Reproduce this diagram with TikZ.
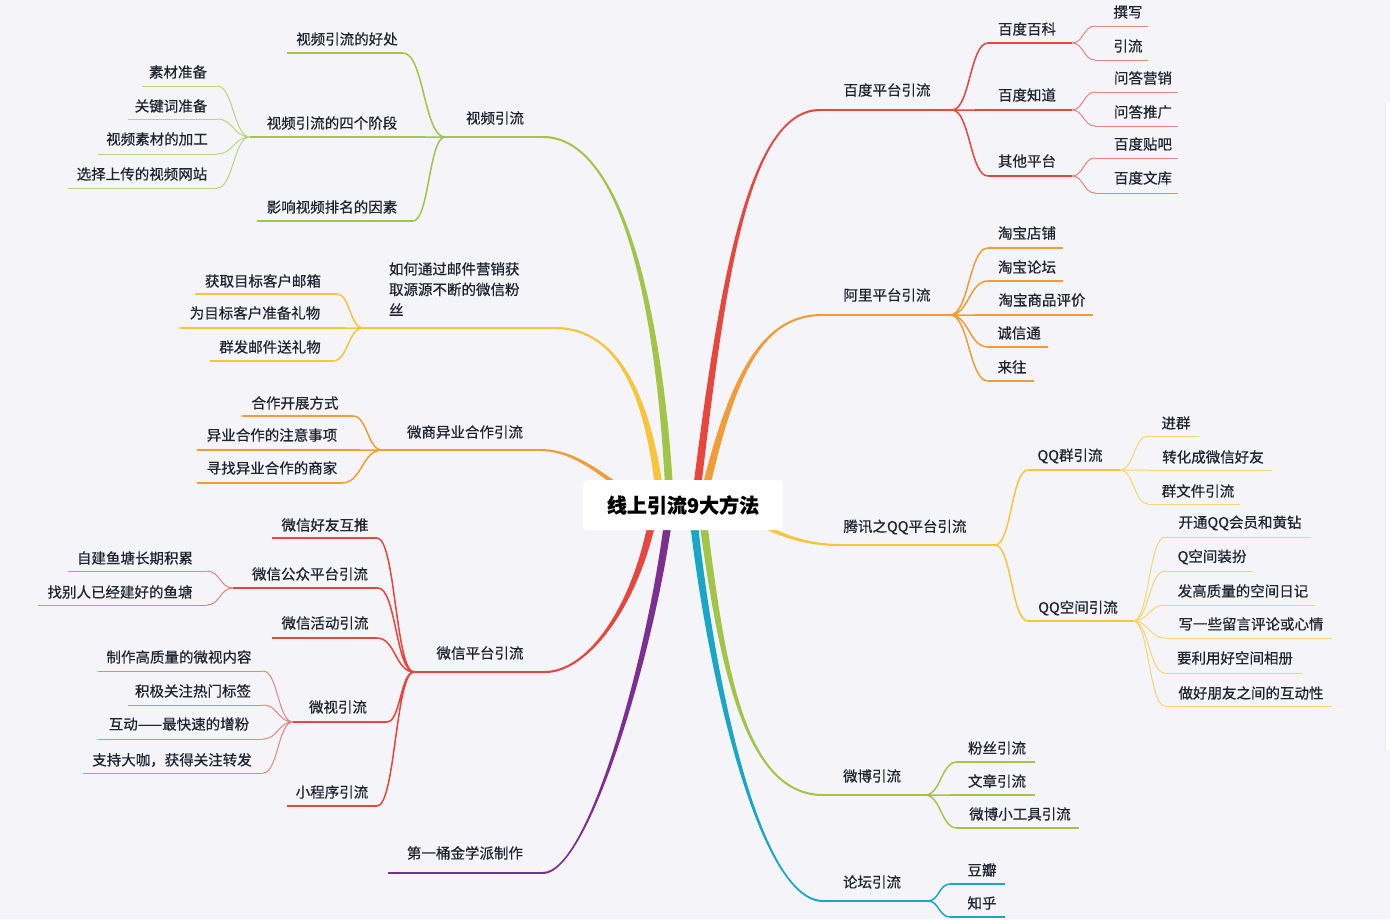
\documentclass[tikz,border=0pt]{standalone}
\usepackage{fontspec}
\setmainfont{Noto Sans CJK SC}[FakeBold=0.5]
\usetikzlibrary{calc}
\definecolor{bg}{HTML}{F5F5F9}
\definecolor{cR}{HTML}{E8453C}
\definecolor{cO}{HTML}{F39B34}
\definecolor{cY}{HTML}{F8C43A}
\definecolor{cG}{HTML}{A2C449}
\definecolor{cC}{HTML}{1AA6C8}
\definecolor{cP}{HTML}{7D2E91}
\definecolor{tx}{HTML}{1E2330}
\tikzset{
 txt/.style={font=\fontsize{14.5}{17}\selectfont, text=tx, inner sep=0pt},
 l1/.style={line width=2pt},
 l2/.style={line width=1.5pt},
 l3/.style={line width=1pt},
 rc/.style={to path={let \p1=(\tikztostart),\p2=(\tikztotarget) in .. controls ({0.5*\x1+0.5*\x2},\y1) and ({0.5*\x1+0.5*\x2},\y2) .. (\tikztotarget)}},
}
% name, text x, text y, line left x, line right x, line y, text, line style
\newcommand\topic[8]{%
 \coordinate (#1-a) at (#4,#6); \coordinate (#1-b) at (#5,#6);
 \node[txt] (#1) at (#2,#3) {#7};
 \draw[#8] (#1-a) -- (#1-b);}
% tapered main branch: colour, start offset, end offset, start name, c1, c2, end name
\newcommand\mainbr[7]{\fill[#1] ($(#4)+#2$) .. controls ($#5+0.8*#2$) and ($#6+1.3*#3$) .. ($(#7)+#3$) -- ($(#7)-#3$) .. controls ($#6-1.3*#3$) and ($#5-0.8*#2$) .. ($(#4)-#2$) -- cycle;}
\begin{document}
\begin{tikzpicture}[x=1pt,y=-1pt]
\fill[bg] (0,0) rectangle (1390,919);
\useasboundingbox (0,0) rectangle (1390,919);
\fill[white] (1385,103) rectangle (1390,750);
\draw[black!8] (1385,103) -- (1385,750);
% root start points
\coordinate (r1) at (695,505); \coordinate (r2) at (702,505);
\coordinate (r3) at (705,505); \coordinate (r4) at (701,505);
\coordinate (r5) at (692,505); \coordinate (r6) at (670,505);
\coordinate (r7) at (661,505); \coordinate (r8) at (660,505);
\coordinate (r9) at (655,505); \coordinate (r10) at (670,505);
% ---------- Baidu
\topic{bdpt}{887}{90}{820}{952}{110}{百度平台引流}{l1,cR}
\topic{bdbk}{1027}{29}{988}{1072}{43}{百度百科}{l2,cR}
\topic{bdzd}{1027}{95}{975}{1072}{110}{百度知道}{l2,cR}
\topic{qtpt}{1027}{161}{988}{1072}{176}{其他平台}{l2,cR}
\topic{zx}{1128}{12}{1095}{1148}{26}{撰写}{l3,cR!65!bg}
\topic{yl}{1128}{46}{1095}{1148}{60}{引流}{l3,cR!65!bg}
\topic{wdyx}{1143}{78}{1095}{1178}{92}{问答营销}{l3,cR!65!bg}
\topic{wdtg}{1143}{112}{1095}{1178}{126}{问答推广}{l3,cR!65!bg}
\topic{bdtb}{1143}{144}{1095}{1178}{158}{百度贴吧}{l3,cR!65!bg}
\topic{bdwk}{1143}{178}{1095}{1178}{193}{百度文库}{l3,cR!65!bg}
\draw[l2,cR] (bdpt-b) to[rc] (bdbk-a) (bdpt-b) to[rc] (bdzd-a) (bdpt-b) to[rc] (qtpt-a);
\draw[l3,cR!65!bg] (bdbk-b) to[rc] (zx-a) (bdbk-b) to[rc] (yl-a)
 (bdzd-b) to[rc] (wdyx-a) (bdzd-b) to[rc] (wdtg-a)
 (qtpt-b) to[rc] (bdtb-a) (qtpt-b) to[rc] (bdwk-a);
% ---------- Ali
\topic{alpt}{887}{295}{822}{950}{315}{阿里平台引流}{l1,cO}
\topic{tbdp}{1027}{233}{988}{1063}{248}{淘宝店铺}{l2,cO}
\topic{tblt}{1027}{267}{988}{1063}{281}{淘宝论坛}{l2,cO}
\topic{tbsp}{1042}{300}{975}{1093}{315}{淘宝商品评价}{l2,cO}
\topic{cxt}{1019}{333}{988}{1048}{347}{诚信通}{l2,cO}
\topic{lw}{1012}{367}{988}{1034}{381}{来往}{l2,cO}
\draw[l2,cO] (alpt-b) to[rc] (tbdp-a) (alpt-b) to[rc] (tblt-a) (alpt-b) to[rc] (tbsp-a)
 (alpt-b) to[rc] (cxt-a) (alpt-b) to[rc] (lw-a);
% ---------- Tencent QQ
\topic{txqq}{905}{527}{840}{995}{545}{腾讯之QQ平台引流}{l1,cY}
\topic{qqq}{1070}{456}{1028}{1120}{470}{QQ群引流}{l2,cY}
\topic{qqkj}{1078}{608}{1028}{1133}{621}{QQ空间引流}{l2,cY}
\topic{jq}{1176}{423}{1148}{1198}{436}{进群}{l3,cY!70!bg}
\topic{zhwx}{1213}{457}{1148}{1272}{470}{转化成微信好友}{l3,cY!70!bg}
\topic{qwj}{1198}{491}{1148}{1240}{504}{群文件引流}{l3,cY!70!bg}
\topic{ktqq}{1240}{523}{1165}{1310}{537}{开通QQ会员和黄钻}{l3,cY!70!bg}
\topic{qkj}{1212}{557}{1165}{1253}{571}{Q空间装扮}{l3,cY!70!bg}
\topic{fgz}{1243}{591}{1165}{1315}{605}{发高质量的空间日记}{l3,cY!70!bg}
\topic{xyx}{1251}{624}{1165}{1332}{638}{写一些留言评论或心情}{l3,cY!70!bg}
\topic{ylyh}{1235}{658}{1165}{1302}{673}{要利用好空间相册}{l3,cY!70!bg}
\topic{zhpy}{1251}{693}{1165}{1332}{706}{做好朋友之间的互动性}{l3,cY!70!bg}
\draw[l2,cY] (txqq-b) to[rc] (qqq-a) (txqq-b) to[rc] (qqkj-a);
\draw[l3,cY!70!bg] (qqq-b) to[rc] (jq-a) (qqq-b) to[rc] (zhwx-a) (qqq-b) to[rc] (qwj-a)
 (qqkj-b) to[rc] (ktqq-a) (qqkj-b) to[rc] (qkj-a) (qqkj-b) to[rc] (fgz-a)
 (qqkj-b) to[rc] (xyx-a) (qqkj-b) to[rc] (ylyh-a) (qqkj-b) to[rc] (zhpy-a);
% ---------- Weibo
\topic{wb}{872}{776}{823}{925}{795}{微博引流}{l1,cG}
\topic{fs}{997}{748}{957}{1035}{762}{粉丝引流}{l2,cG}
\topic{wz}{997}{781}{950}{1035}{795}{文章引流}{l2,cG}
\topic{wbgj}{1020}{814}{957}{1079}{828}{微博小工具引流}{l2,cG}
\draw[l2,cG] (wb-b) to[rc] (fs-a) (wb-b) to[rc] (wz-a) (wb-b) to[rc] (wbgj-a);
% ---------- Forum
\topic{lt}{872}{882}{823}{928}{901}{论坛引流}{l1,cC}
\topic{db}{982}{870}{950}{1005}{884}{豆瓣}{l2,cC}
\topic{zh}{982}{903}{950}{1005}{917}{知乎}{l2,cC}
\draw[l2,cC] (lt-b) to[rc] (db-a) (lt-b) to[rc] (zh-a);
% ---------- Video
\topic{sp}{495}{118}{445}{543}{137}{视频引流}{l1,cG}
\topic{sphc}{347}{39}{287}{403}{53}{视频引流的好处}{l2,cG}
\topic{sp4}{332}{123}{250}{425}{137}{视频引流的四个阶段}{l2,cG}
\topic{spyx}{332}{207}{257}{413}{221}{影响视频排名的因素}{l2,cG}
\topic{sczb}{178}{72}{142}{217}{86}{素材准备}{l3,cG!70!bg}
\topic{gjc}{171}{106}{128}{217}{119}{关键词准备}{l3,cG!70!bg}
\topic{spsc}{157}{139}{98}{217}{154}{视频素材的加工}{l3,cG!70!bg}
\topic{xzsc}{142}{174}{68}{217}{188}{选择上传的视频网站}{l3,cG!70!bg}
\draw[l2,cG] (sp-a) to[rc] (sphc-b) (sp-a) to[rc] (sp4-b) (sp-a) to[rc] (spyx-b);
\draw[l3,cG!70!bg] (sp4-a) to[rc] (sczb-b) (sp4-a) to[rc] (gjc-b) (sp4-a) to[rc] (spsc-b) (sp4-a) to[rc] (xzsc-b);
% ---------- Mail
\coordinate (yj-a) at (363,328); \coordinate (yj-b) at (555,328);
\node[txt, align=left, text width=134pt, font=\fontsize{14.5}{20.5}\selectfont] (yj) at (456,289)
 {如何通过邮件营销获\\取源源不断的微信粉\\丝};
\draw[l1,cY] (yj-a) -- (yj-b);
\topic{hqmb}{263}{281}{195}{337}{294}{获取目标客户邮箱}{l2,cY}
\topic{wmbk}{255}{313}{180}{345}{328}{为目标客户准备礼物}{l2,cY}
\topic{qfyj}{270}{347}{210}{333}{361}{群发邮件送礼物}{l2,cY}
\draw[l2,cY] (yj-a) to[rc] (hqmb-b) (yj-a) to[rc] (wmbk-b) (yj-a) to[rc] (qfyj-b);
% ---------- WeShang
\topic{ws}{465}{432}{382}{540}{450}{微商异业合作引流}{l1,cO}
\topic{hzkz}{295}{403}{242}{353}{416}{合作开展方式}{l2,cO}
\topic{yyhz}{272}{435}{197}{360}{450}{异业合作的注意事项}{l2,cO}
\topic{xzyy}{272}{468}{197}{342}{483}{寻找异业合作的商家}{l2,cO}
\draw[l2,cO] (ws-a) to[rc] (hzkz-b) (ws-a) to[rc] (yyhz-b) (ws-a) to[rc] (xzyy-b);
% ---------- WeChat
\topic{wx}{480}{653}{414}{545}{672}{微信平台引流}{l1,cR}
\topic{wxhy}{325}{525}{272}{377}{538}{微信好友互推}{l2,cR}
\topic{wxgz}{310}{574}{233}{378}{588}{微信公众平台引流}{l2,cR}
\topic{wxhd}{325}{623}{272}{377}{638}{微信活动引流}{l2,cR}
\topic{wsyl}{338}{707}{293}{387}{722}{微视引流}{l2,cR}
\topic{xcx}{332}{792}{287}{377}{806}{小程序引流}{l2,cR}
\topic{zjyt}{135}{558}{68}{207}{571}{自建鱼塘长期积累}{l3,cR!65!bg}
\topic{zbr}{120}{592}{38}{207}{605}{找别人已经建好的鱼塘}{l3,cR!65!bg}
\topic{zzgz}{179}{657}{98}{263}{671}{制作高质量的微视内容}{l3,cR!65!bg}
\topic{jjgz}{193}{691}{128}{263}{705}{积极关注热门标签}{l3,cR!65!bg}
\topic{hd}{179}{724}{98}{263}{739}{互动——最快速的增粉}{l3,cR!65!bg}
\topic{zcdk}{172}{760}{83}{263}{773}{支持大咖，获得关注转发}{l3,cR!65!bg}
\draw[l2,cR] (wx-a) to[rc] (wxhy-b) (wx-a) to[rc] (wxgz-b) (wx-a) to[rc] (wxhd-b)
 (wx-a) to[rc] (wsyl-b) (wx-a) to[rc] (xcx-b);
\draw[l3,cR!65!bg] (wxgz-a) to[rc] (zjyt-b) (wxgz-a) to[rc] (zbr-b)
 (wsyl-a) to[rc] (zzgz-b) (wsyl-a) to[rc] (jjgz-b) (wsyl-a) to[rc] (hd-b) (wsyl-a) to[rc] (zcdk-b);
% ---------- First bucket
\topic{dyt}{465}{853}{388}{543}{873}{第一桶金学派制作}{l1,cP}
% ---------- main branches
\mainbr{cR}{(-4,0)}{(0,-1)}{r1}{(720,300)}{(745,110)}{bdpt-a}
\mainbr{cO}{(-4,0)}{(0,-1)}{r2}{(730,380)}{(760,315)}{alpt-a}
\mainbr{cY}{(0,-4)}{(0,-1)}{r3}{(750,510)}{(775,545)}{txqq-a}
\mainbr{cG}{(-4,0)}{(0,1)}{r4}{(720,650)}{(740,795)}{wb-a}
\mainbr{cC}{(-4,0)}{(0,1)}{r5}{(710,680)}{(760,901)}{lt-a}
\mainbr{cG}{(4,0)}{(0,-1)}{r6}{(660,300)}{(620,137)}{sp-b}
\mainbr{cY}{(4,0)}{(0,-1)}{r7}{(650,400)}{(620,328)}{yj-b}
\mainbr{cO}{(0,-4)}{(0,-1)}{r8}{(620,500)}{(590,450)}{ws-b}
\mainbr{cR}{(-4,0)}{(0,-1)}{r9}{(640,600)}{(590,672)}{wx-b}
\mainbr{cP}{(-4,0)}{(0,-1)}{r10}{(655,640)}{(590,873)}{dyt-b}
% ---------- root
\node[fill=white, rounded corners=4pt, minimum width=200pt, minimum height=50pt, inner sep=0pt,
 text=black, font=\fontsize{20}{24}\selectfont\bfseries] (root) at (683,505) {线上引流9大方法};
\end{tikzpicture}
\end{document}
